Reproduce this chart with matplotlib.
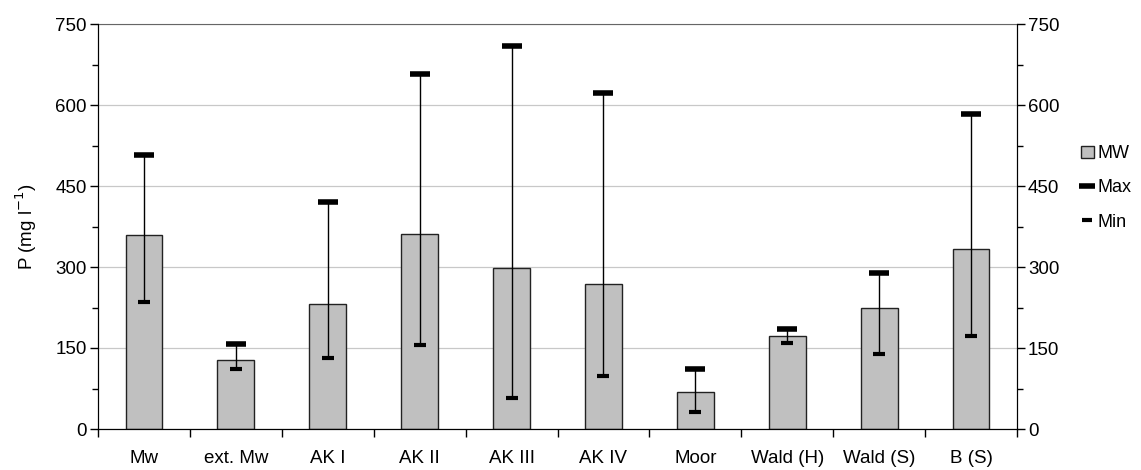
"""
Balkendiagramm P-Konzentration mit Min/Max
"""

import matplotlib
matplotlib.use('Agg')
import matplotlib.pyplot as plt
from matplotlib.lines import Line2D
from matplotlib.patches import Patch
import numpy as np

plt.rcParams['font.family'] = ['Liberation Sans', 'DejaVu Sans']

# Daten
categories = ['Mw', 'ext. Mw', 'AK I', 'AK II', 'AK III', 'AK IV',
              'Moor', 'Wald (H)', 'Wald (S)', 'B (S)']
mw_values = [360, 127, 231, 362, 298, 268, 68, 173, 225, 334]
max_values = [507, 158, 420, 657, 709, 622, 112, 185, 288, 584]
min_values = [236, 112, 132, 156, 57, 99, 31, 160, 139, 172]

x = np.arange(len(categories))
fs = 13.5

fig = plt.figure(figsize=(11.41, 4.70), dpi=100)
ax = fig.add_axes([98 / 1141, 1 - 429 / 470, 919 / 1141, 405 / 470])

# Gitterlinien
ax.set_ylim(0, 750)
ax.set_xlim(-0.5, len(categories) - 0.5)
ax.set_yticks(np.arange(0, 751, 150))
ax.set_yticks(np.arange(0, 751, 75), minor=True)
ax.yaxis.grid(True, color='#c8c8c8', linewidth=0.9)
ax.set_axisbelow(True)

# Balken
ax.bar(x, mw_values, width=0.4, color='#c0c0c0', edgecolor='#222222',
       linewidth=1.0, zorder=2)

# Min-Max Linien
ax.vlines(x, min_values, max_values, color='black', linewidth=1.0, zorder=3)
ax.plot(x, max_values, linestyle='none', marker='_', markersize=15,
        markeredgewidth=4, color='black', zorder=4)
ax.plot(x, min_values, linestyle='none', marker='_', markersize=8,
        markeredgewidth=3, color='black', zorder=4)

# Achsen
ax.set_xticks(x)
ax.set_xticklabels(categories, fontsize=fs)
ax.set_xticks(np.arange(-0.5, len(categories), 1.0), minor=True)
ax.tick_params(axis='x', which='major', length=0, pad=15)
ax.tick_params(axis='x', which='minor', length=6, direction='out', width=1)
ax.tick_params(axis='y', which='major', length=6, direction='out',
               labelsize=fs, width=1, pad=2)
ax.tick_params(axis='y', which='minor', length=4, direction='out', width=1)
ax.spines['top'].set_color('#666666')
ax.set_ylabel('P (mg l$^{-1}$)', fontsize=fs, labelpad=12)

# rechte Achse
ax2 = ax.twinx()
ax2.set_ylim(0, 750)
ax2.set_yticks(np.arange(0, 751, 150))
ax2.set_yticks(np.arange(0, 751, 75), minor=True)
ax2.tick_params(axis='y', which='major', length=6, direction='out',
                labelsize=fs, width=1, pad=2)
ax2.tick_params(axis='y', which='minor', length=4, direction='out', width=1)
ax2.spines['top'].set_visible(False)

# Legende
handles = [
    Patch(facecolor='#c0c0c0', edgecolor='#222222', linewidth=1.0),
    Line2D([], [], linestyle='none', marker='_', markersize=12,
           markeredgewidth=4, color='black'),
    Line2D([], [], linestyle='none', marker='_', markersize=7,
           markeredgewidth=3, color='black'),
]
fig.legend(handles, ['MW', 'Max', 'Min'], loc='center left',
           bbox_to_anchor=(1081 / 1141, 1 - 188 / 470), frameon=False,
           fontsize=13, handlelength=0.7, handletextpad=0.2,
           labelspacing=0.95, borderpad=0, borderaxespad=0)

fig.savefig('out.png', dpi=100, facecolor='white')
